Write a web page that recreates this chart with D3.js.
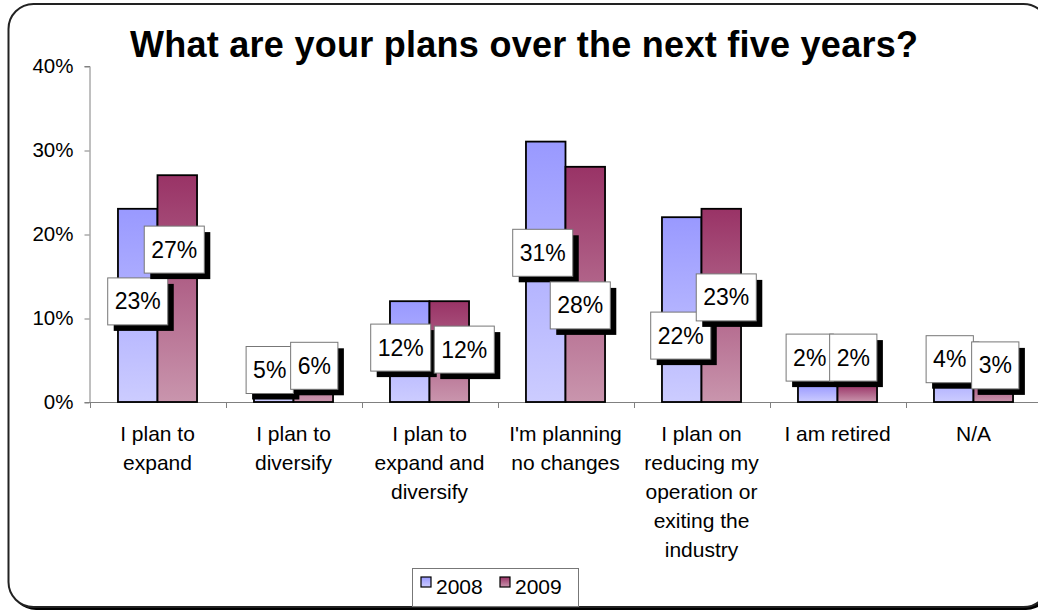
<html>
<head>
<script src="https://d3js.org/d3.v7.min.js"></script>
<style>
  body { margin: 0; background: #fff; overflow: hidden; }
  text { font-family: "Liberation Sans", Arial, sans-serif; }
</style>
</head>
<body>
<svg id="chart" width="1038" height="613"></svg>
<script>
// data
const categories = [
  ['I plan to', 'expand'],
  ['I plan to', 'diversify'],
  ['I plan to', 'expand and', 'diversify'],
  ["I'm planning", 'no changes'],
  ['I plan on', 'reducing my', 'operation or', 'exiting the', 'industry'],
  ['I am retired'],
  ['N/A']
];
const years = ['2008', '2009'];
const values2008 = [23, 5, 12, 31, 22, 2, 4];
const values2009 = [27, 6, 12, 28, 23, 2, 3];
const yTicks = [0, 10, 20, 30, 40];
const title = 'What are your plans over the next five years?';

// hand nudges for the data labels (they were moved around in the original)
const labelDx = {'2008': [0, -4, -9, -3, -1, -8, -4], '2009': [-3, 1, 15, -5, 5, -4, 2]};
const labelDy = {'2008': [-4, -11, -4, -19, 26, -36, -26], '2009': [-39, -11, -2, 21, -8, -36, -24]};

const series = {'2008': values2008, '2009': values2009};
const svg = d3.select('#chart');

// gradients
const defs = svg.append('defs');
const grads = {'2008': ['#9999ff', '#ccccff'], '2009': ['#993366', '#c995ad']};
years.forEach(function(yr) {
  const g = defs.append('linearGradient')
    .attr('id', 'g' + yr)
    .attr('x1', 0).attr('y1', 0).attr('x2', 0).attr('y2', 1);
  g.append('stop').attr('offset', '0%').attr('stop-color', grads[yr][0]);
  g.append('stop').attr('offset', '100%').attr('stop-color', grads[yr][1]);
});

// chart area frame (right side runs off the picture)
svg.append('rect')
  .attr('x', 11).attr('y', 7).attr('width', 1040).attr('height', 603)
  .attr('rx', 25).attr('fill', '#000');
svg.append('rect')
  .attr('x', 8.5).attr('y', 4).attr('width', 1040).attr('height', 603)
  .attr('rx', 25).attr('fill', '#fff').attr('stroke', '#222').attr('stroke-width', 2);

// title
svg.append('text')
  .attr('x', 524).attr('y', 57)
  .attr('text-anchor', 'middle')
  .attr('font-size', 36).attr('font-weight', 'bold')
  .attr('textLength', 788).attr('lengthAdjust', 'spacing')
  .text(title);

const x0 = d3.scaleBand()
  .domain(d3.range(categories.length))
  .range([89.5, 89.5 + 136 * categories.length]);
const x1 = d3.scaleBand()
  .domain(years)
  .range([0, x0.bandwidth()])
  .paddingInner(0).paddingOuter(0.72);
const y = d3.scaleLinear()
  .domain([0, 40])
  .range([402, 66]);

// y axis
const yAxis = svg.append('g')
  .attr('transform', 'translate(89.5,0)')
  .call(d3.axisLeft(y).tickValues(yTicks).tickFormat(d => d + '%').tickSize(5).tickPadding(11));
yAxis.select('.domain').attr('stroke', '#808080');
yAxis.selectAll('.tick line').attr('stroke', '#808080').attr('transform', 'translate(0,0.5)');
yAxis.selectAll('.tick text').attr('font-size', 20.5).attr('fill', '#000')
  .attr('font-family', '"Liberation Sans", Arial, sans-serif');

// x axis: line plus ticks at category boundaries
const xg = svg.append('g');
xg.append('line')
  .attr('x1', x0.range()[0]).attr('x2', x0.range()[1])
  .attr('y1', y(0) + 0.5).attr('y2', y(0) + 0.5)
  .attr('stroke', '#808080');
xg.selectAll('line.tk')
  .data(d3.range(categories.length + 1))
  .enter().append('line')
  .attr('class', 'tk')
  .attr('x1', i => Math.round(x0.range()[0] + i * x0.step()) + 0.5)
  .attr('x2', i => Math.round(x0.range()[0] + i * x0.step()) + 0.5)
  .attr('y1', y(0)).attr('y2', y(0) + 6)
  .attr('stroke', '#808080');

// category labels
xg.selectAll('text.cat')
  .data(categories)
  .enter().append('text')
  .attr('class', 'cat')
  .attr('text-anchor', 'middle')
  .attr('font-size', 21)
  .attr('x', (d, i) => x0(i) + x0.bandwidth() / 2)
  .attr('y', 441)
  .each(function(lines, i) {
    const t = d3.select(this);
    lines.forEach(function(l, j) {
      t.append('tspan')
        .attr('x', x0(i) + x0.bandwidth() / 2)
        .attr('dy', j === 0 ? 0 : 29)
        .text(l);
    });
  });

// bars
years.forEach(function(yr) {
  svg.append('g').selectAll('rect')
    .data(series[yr])
    .enter().append('rect')
    .attr('x', (d, i) => x0(i) + x1(yr))
    .attr('y', d => y(d))
    .attr('width', x1.bandwidth())
    .attr('height', d => y(0) - y(d))
    .attr('fill', 'url(#g' + yr + ')')
    .attr('stroke', '#000')
    .attr('stroke-width', 1.8);
});

// data labels with shadow boxes
years.forEach(function(yr) {
  const lg = svg.append('g');
  series[yr].forEach(function(v, i) {
    const cx = x0(i) + x1(yr) + x1.bandwidth() / 2 + labelDx[yr][i];
    const cy = y(v / 2) + labelDy[yr][i];
    const g = lg.append('g');
    const shadow = g.append('rect').attr('fill', '#000');
    const box = g.append('rect').attr('fill', '#fff').attr('stroke', '#777').attr('stroke-width', 1);
    const t = g.append('text')
      .attr('x', cx).attr('y', cy + 8)
      .attr('text-anchor', 'middle')
      .attr('font-size', 23)
      .text(v + '%');
    const w = t.node().getComputedTextLength() + 14;
    const h = 47;
    box.attr('x', cx - w / 2).attr('y', cy - h / 2).attr('width', w).attr('height', h);
    shadow.attr('x', cx - w / 2 + 6).attr('y', cy - h / 2 + 6).attr('width', w).attr('height', h);
  });
});

// legend
const leg = svg.append('g');
leg.append('rect')
  .attr('x', 412.5).attr('y', 568.5).attr('width', 166).attr('height', 38)
  .attr('fill', '#fff').attr('stroke', '#777');
const legX = [421, 500];
years.forEach(function(yr, k) {
  leg.append('rect')
    .attr('x', legX[k]).attr('y', 577).attr('width', 10).attr('height', 10)
    .attr('fill', 'url(#g' + yr + ')').attr('stroke', '#000').attr('stroke-width', 1.2);
  leg.append('text')
    .attr('x', legX[k] + 15).attr('y', 594)
    .attr('font-size', 21)
    .text(yr);
});
</script>
</body>
</html>
